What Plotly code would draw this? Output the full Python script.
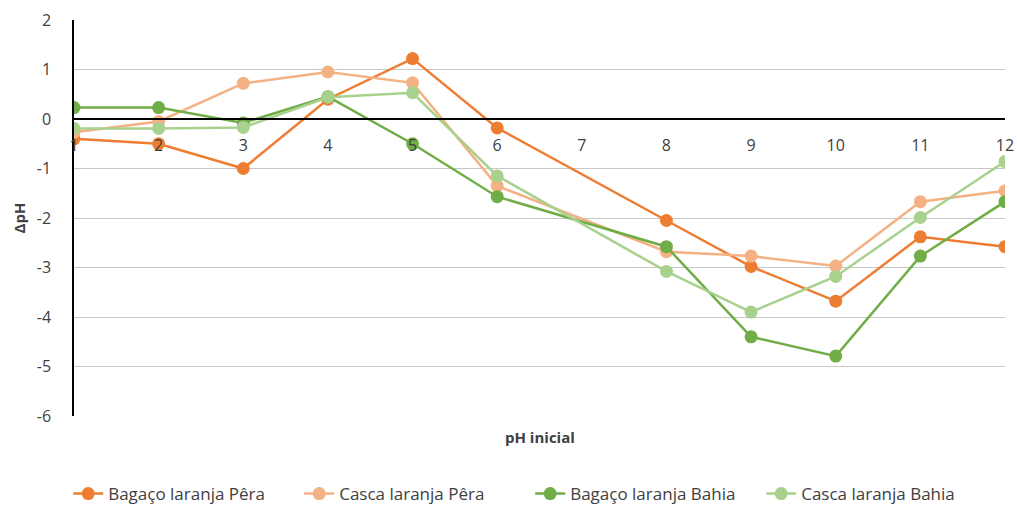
import plotly.graph_objects as go

ph_inicial = [1, 2, 3, 4, 5, 6, 7, 8, 9, 10, 11, 12]
bagaco_pera = [-0.4, -0.5, -1.0, 0.4, 1.22, -0.18, None, -2.05, -2.98, -3.68, -2.38, -2.58]
casca_pera = [-0.27, -0.05, 0.72, 0.95, 0.73, -1.35, None, -2.68, -2.77, -2.97, -1.67, -1.45]
bagaco_bahia = [0.23, 0.23, -0.08, 0.45, -0.5, -1.57, None, -2.58, -4.4, -4.79, -2.77, -1.67]
casca_bahia = [-0.19, -0.19, -0.17, 0.44, 0.53, -1.15, None, -3.08, -3.9, -3.18, -1.99, -0.86]

series_names = ["Bagaço laranja Pêra", "Casca laranja Pêra", "Bagaço laranja Bahia", "Casca laranja Bahia"]
series_values = [bagaco_pera, casca_pera, bagaco_bahia, casca_bahia]
colors = ["#ED7D31", "#F4B183", "#70AD47", "#A9D18E"]

y_ticks = [2, 1, 0, -1, -2, -3, -4, -5, -6]
y_ticktext = ["2", "1", "0", "-1", "-2", "-3", "-4", "-5", "-6"]

FONT = "Open Sans"
TXT = "#404040"

fig = go.Figure()
for name, vals, col in zip(series_names, series_values, colors):
    fig.add_trace(go.Scatter(
        x=ph_inicial, y=vals, name=name, mode="lines+markers",
        connectgaps=True,
        line=dict(color=col, width=2.5),
        marker=dict(color=col, size=13, symbol="circle"),
    ))

fig.update_layout(
    width=1017, height=509,
    margin=dict(l=74, r=12, t=20, b=93, autoexpand=False),
    paper_bgcolor="white", plot_bgcolor="white",
    font=dict(family=FONT, size=15, color=TXT),
    showlegend=True,
    legend=dict(orientation="h", x=0.49, xanchor="center", y=-0.197, yanchor="middle",
                font=dict(family=FONT, size=17, color=TXT),
                entrywidth=186, itemwidth=30, traceorder="normal"),
    xaxis=dict(
        range=[1, 12], tickmode="array", tickvals=ph_inicial,
        ticktext=[str(v) for v in ph_inicial],
        anchor="free", position=0.75, automargin=False,
        showline=True, linecolor="black", linewidth=1.5,
        showgrid=False, zeroline=False, ticks="",
        tickfont=dict(family=FONT, size=16, color=TXT),
        ticklabelstandoff=12,
    ),
    yaxis=dict(
        range=[-6, 2], tickmode="array", tickvals=y_ticks, ticktext=y_ticktext,
        automargin=False,
        showgrid=True, gridcolor="#C8C8C8", gridwidth=1,
        zeroline=False, showline=True, linecolor="black", linewidth=1.5,
        ticks="", tickfont=dict(family=FONT, size=16, color=TXT),
        ticklabelstandoff=18,
        title=dict(text="<b>ΔpH</b>", font=dict(family=FONT, size=15, color=TXT), standoff=8),
    ),
    annotations=[dict(
        text="<b>pH inicial</b>", xref="paper", yref="paper", x=0.5, y=-0.053,
        xanchor="center", yanchor="middle", showarrow=False,
        font=dict(family=FONT, size=15, color=TXT),
    )],
)

fig.write_html("out.html", config={"displayModeBar": False},
               post_script="document.body.style.margin='0px';")
